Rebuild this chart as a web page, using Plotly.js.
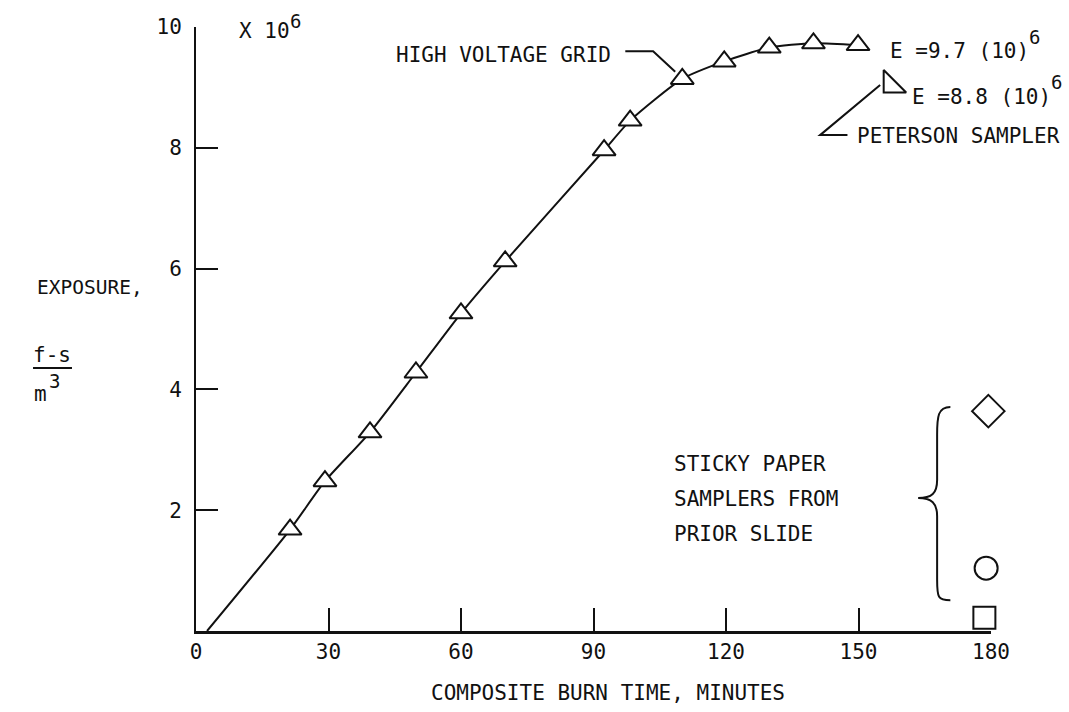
<!DOCTYPE html>
<html>
<head>
<meta charset="utf-8">
<script src="https://cdn.plot.ly/plotly-3.0.1.min.js"></script>
<style>
  html, body { margin: 0; padding: 0; background: #fff; }
  #chart { width: 1069px; height: 712px; }
</style>
</head>
<body>
<div id="chart"></div>
<script>
// ---- data ----
const gridTime = [21.3, 29.2, 39.4, 49.8, 60.0, 70.0, 92.4, 98.3, 110.1, 119.6, 129.8, 139.8, 149.9];
const gridExposure = [1.68, 2.48, 3.29, 4.28, 5.26, 6.12, 7.96, 8.45, 9.14, 9.43, 9.66, 9.73, 9.70];
const curveStartTime = [2.5];
const curveStartExposure = [0];
const petersonTime = [157.4];
const petersonExposure = [9.04];
const stickyTime = [179.4, 178.9, 178.5];
const stickyExposure = [3.64, 1.04, 0.22];
const stickySymbols = ['diamond', 'circle', 'square'];
const stickySizes = [25, 23, 22];
const xTickVals = [0, 30, 60, 90, 120, 150, 180];
const xTickText = ['0', '30', '60', '90', '120', '150', '180'];
const yTickVals = [2, 4, 6, 8, 10];
const yTickText = ['2', '4', '6', '8', '10'];

const FONT = '"DejaVu Sans Mono", "Liberation Mono", monospace';
const BLACK = '#111';

const traces = [
  {
    x: curveStartTime.concat(gridTime),
    y: curveStartExposure.concat(gridExposure),
    mode: 'lines',
    line: { color: BLACK, width: 2, shape: 'spline', smoothing: 0.6 },
    hoverinfo: 'skip',
    showlegend: false
  },
  {
    x: gridTime, y: gridExposure,
    mode: 'markers',
    marker: { symbol: 'triangle-up', size: 20, color: '#fff', opacity: 1, line: { color: BLACK, width: 2 } },
    cliponaxis: false,
    showlegend: false
  },
  {
    x: petersonTime, y: petersonExposure,
    mode: 'markers',
    marker: { symbol: 'triangle-sw', size: 25, color: '#fff', opacity: 1, line: { color: BLACK, width: 2 } },
    cliponaxis: false,
    showlegend: false
  },
  {
    x: stickyTime, y: stickyExposure,
    mode: 'markers',
    marker: { symbol: stickySymbols, size: stickySizes, color: '#fff', opacity: 1, line: { color: BLACK, width: 2 } },
    cliponaxis: false,
    showlegend: false
  }
];

function txt(text, x, y, xanchor, extra) {
  return Object.assign({
    text: text, x: x, y: y, xref: 'x', yref: 'y',
    xanchor: xanchor || 'left', yanchor: 'middle', showarrow: false,
    font: { family: FONT, size: 21, color: BLACK }
  }, extra || {});
}
function sup(text, x, y) {
  return txt(text, x, y, 'left', { xref: 'paper', yref: 'paper', font: { family: FONT, size: 19, color: BLACK } });
}

const annotations = [
  txt('X 10', 9.29, 9.94, 'left'),
  sup('6', 0.1157, 1.010),
  txt('HIGH VOLTAGE GRID', 94.4, 9.54, 'right'),
  txt('E =9.7 (10)', 156.7, 9.60, 'left'),
  sup('6', 1.0453, 0.9834),
  txt('E =8.8 (10)', 161.7, 8.84, 'left'),
  sup('6', 1.0730, 0.909),
  txt('PETERSON SAMPLER', 149.3, 8.20, 'left'),
  txt('STICKY PAPER', 107.8, 2.76, 'left'),
  txt('SAMPLERS FROM', 107.8, 2.19, 'left'),
  txt('PRIOR SLIDE', 107.8, 1.61, 'left'),
  txt('EXPOSURE,', -0.2025, 0.5695, 'left', { xref: 'paper', yref: 'paper', font: { family: FONT, size: 19.5, color: BLACK } }),
  txt('f-s', -0.181, 0.457, 'center', { xref: 'paper', yref: 'paper' }),
  txt('m', -0.206, 0.392, 'left', { xref: 'paper', yref: 'paper' }),
  sup('3', -0.1880, 0.414),
  txt('COMPOSITE BURN TIME, MINUTES', 0.518, -0.1026, 'center', { xref: 'paper', yref: 'paper' })
];

const lineStyle = { color: BLACK, width: 2 };
const shapes = [
  // leader: high voltage grid
  { type: 'path', xref: 'x', yref: 'y', path: 'M 97.2,9.60 L 103.5,9.60 L 108.5,9.26', line: lineStyle },
  // leader: peterson sampler
  { type: 'path', xref: 'x', yref: 'y', path: 'M 154.9,9.04 L 141.3,8.21 L 147.5,8.21', line: lineStyle },
  // brace
  { type: 'path', xref: 'x', yref: 'y',
    path: 'M 170.8,3.71 C 168.0,3.71 167.8,3.55 167.8,3.25 L 167.8,2.50 C 167.8,2.28 166.6,2.20 163.5,2.20 C 166.6,2.20 167.8,2.12 167.8,1.90 L 167.8,0.85 C 167.8,0.55 168.0,0.51 170.8,0.51',
    line: lineStyle },
  // fraction bar
  { type: 'line', xref: 'paper', yref: 'paper', x0: -0.205, x1: -0.156, y0: 0.4354, y1: 0.4354, line: lineStyle }
];

const layout = {
  width: 1069, height: 712,
  margin: { l: 196, r: 78, t: 27, b: 81 },
  paper_bgcolor: '#fff', plot_bgcolor: '#fff',
  font: { family: FONT, size: 20, color: BLACK },
  showlegend: false,
  xaxis: {
    range: [0, 180], tickvals: xTickVals, ticktext: xTickText,
    ticks: 'inside', ticklen: 23, tickwidth: 2, tickcolor: BLACK,
    showline: true, linecolor: BLACK, linewidth: 2.5,
    showgrid: false, zeroline: false, layer: 'below traces',
    tickfont: { family: FONT, size: 21, color: BLACK },
    ticklabelstandoff: 0
  },
  yaxis: {
    range: [0, 10], tickvals: yTickVals, ticktext: yTickText,
    ticks: 'inside', ticklen: 22, tickwidth: 2, tickcolor: BLACK,
    showline: true, linecolor: BLACK, linewidth: 2,
    showgrid: false, zeroline: false, layer: 'below traces',
    tickfont: { family: FONT, size: 21, color: BLACK },
    ticklabelstandoff: 8
  },
  annotations: annotations,
  shapes: shapes
};

Plotly.newPlot('chart', traces, layout, { displayModeBar: false, staticPlot: true });
</script>
</body>
</html>
